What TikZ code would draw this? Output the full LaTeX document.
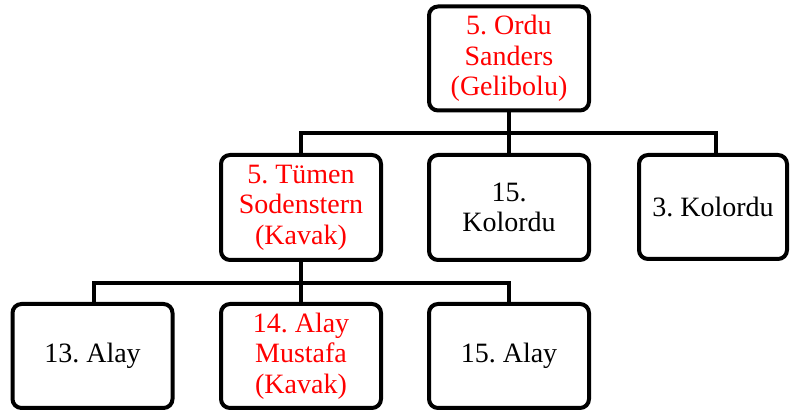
\documentclass[tikz,border=0pt]{standalone}
\usepackage{fontspec}
\setmainfont{LiberationSerif}[Extension=.ttf, UprightFont=*-Regular, BoldFont=*-Bold]
\definecolor{lblred}{RGB}{255,0,0}
\frenchspacing
\begin{document}
\begin{tikzpicture}[x=1pt,y=1pt,
  unit/.style={draw=black, line width=4pt, rounded corners=9pt, fill=white,
    minimum width=160pt, minimum height=104pt, inner sep=2pt, align=center,
    font=\fontsize{28}{30.5}\selectfont},
  redtext/.style={text=lblred},
  conn/.style={draw=black, line width=4pt}]
\useasboundingbox (0,0) rectangle (790,419);
% nodes
\node[unit, redtext] (ordu) at (509,360.5) {5. Ordu\\Sanders\\(Gelibolu)};
\node[unit, redtext, minimum height=105pt] (tumen) at (301,211.5) {5. Tümen\\Sodenstern\\(Kavak)};
\node[unit, minimum height=105pt] (kol15) at (509,211.5) {15.\\Kolordu};
\node[unit, minimum width=148pt, minimum height=104pt] (kol3) at (713,212) {3. Kolordu};
\node[unit] (alay13) at (92.5,63) {13. Alay};
\node[unit, redtext] (alay14) at (301,63) {14. Alay\\Mustafa\\(Kavak)};
\node[unit] (alay15) at (509,63) {15. Alay};
% junctions
\coordinate (j1) at (509,286);
\coordinate (j2) at (301,136);
% connectors
\draw[conn] (ordu.south) -- (j1);
\draw[conn] (j1) -| (tumen.north);
\draw[conn] (j1) -- (kol15.north);
\draw[conn] (j1) -| ([xshift=3pt]kol3.north);
\draw[conn] (tumen.south) -- (j2);
\draw[conn] (j2) -| ([xshift=1.5pt]alay13.north);
\draw[conn] (j2) -- (alay14.north);
\draw[conn] (j2) -| (alay15.north);
\end{tikzpicture}
\end{document}
